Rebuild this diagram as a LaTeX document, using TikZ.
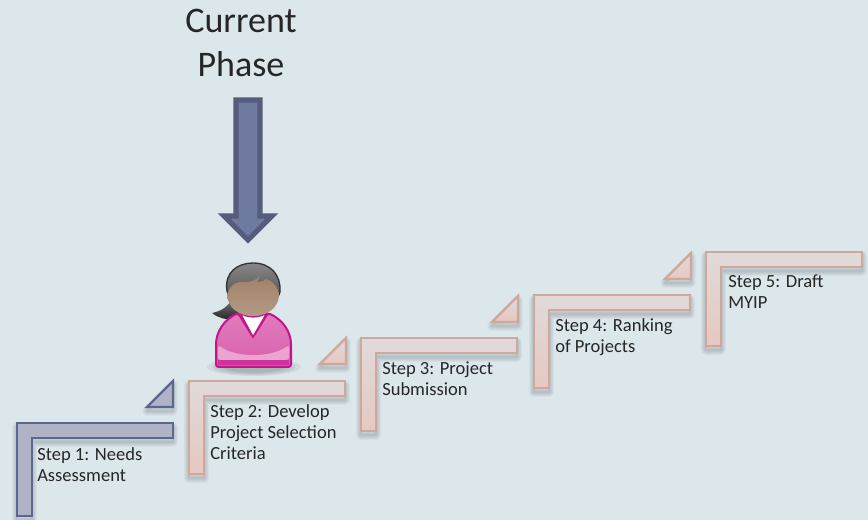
\documentclass[tikz,border=0pt]{standalone}
\usepackage{fontspec}
\setmainfont{Carlito}
\usetikzlibrary{calc}
\definecolor{bgc}{HTML}{DCE7EC}
\definecolor{slate}{HTML}{B0B3C5}
\definecolor{slateline}{HTML}{5C6790}
\definecolor{rosetop}{HTML}{E0DADA}
\definecolor{rosebot}{HTML}{E6C8C0}
\definecolor{roseline}{HTML}{CDA99D}
\definecolor{arrowfill}{HTML}{6F7AA0}
\definecolor{arrowline}{HTML}{565C7C}
\definecolor{magline}{HTML}{C4148C}
\definecolor{magtop}{HTML}{E07CBC}
\definecolor{magmid}{HTML}{EDB4D8}
\definecolor{magbot}{HTML}{D860AC}
\definecolor{skin}{HTML}{A08268}
\definecolor{skinlt}{HTML}{B39A86}
\definecolor{hairc}{HTML}{454545}
\tikzset{
  x=0.75pt,y=-0.75pt,
  donestep/.style={draw=slateline,line width=1.9pt,fill=slate,line join=miter},
  todostep/.style={draw=roseline,line width=1.9pt,top color=rosetop,bottom color=rosebot,line join=miter},
  donetri/.style={draw=slateline,line width=1.6pt,fill=slate,line join=miter},
  todotri/.style={draw=roseline,line width=1.6pt,top color=rosetop,bottom color=rosebot,line join=miter},
  softedge/.style={draw=black,draw opacity=0.035,fill=none,line join=round},
  steplabel/.style={anchor=north west,inner sep=0pt,align=left,font=\fontsize{13.9}{15.75}\selectfont,text=black!85},
  phaselabel/.style={anchor=center,inner sep=0pt,align=center,font=\fontsize{27}{33}\selectfont,text=black!85}
}
\newcommand{\stepshape}[4]{%
  \foreach \w in {1,2.5,4,5.5,7}{
    \path[softedge,line width=\w pt] (#1,#2+4) -- ++(156,0) -- ++(0,15) -- (#1+15,#2+19) -- (#1+15,#3+4) -- (#1,#3+4) -- cycle;
  }
  \path[#4] (#1,#2) -- ++(156,0) -- ++(0,15) -- (#1+15,#2+15) -- (#1+15,#3) -- (#1,#3) -- cycle;
}
\newcommand{\triangleshape}[3]{%
  \foreach \w in {1,2.5,4,5.5,7}{
    \path[softedge,line width=\w pt] (#1-26,#2+4) -- (#1,#2+4) -- (#1,#2-22) -- cycle;
  }
  \path[#3] (#1-26,#2) -- (#1,#2) -- (#1,#2-26) -- cycle;
}
\begin{document}
\begin{tikzpicture}
\useasboundingbox (0,0) rectangle (868,520);
\fill[bgc] (0,0) rectangle (868,520);

\node[phaselabel] (phase) at (241,43) {Current\\Phase};

\path[draw=arrowline,fill=arrowfill,line width=3.9pt,line join=miter,miter limit=4]
  (236,100) -- (260,100) -- (260,216) -- (272,216) -- (248,240) -- (224,216) -- (236,216) -- cycle;

\stepshape{17}{423}{516}{donestep}
\triangleshape{173}{407}{donetri}
\stepshape{189}{381}{474}{todostep}
\triangleshape{346}{364}{todotri}
\stepshape{361}{338}{431}{todostep}
\triangleshape{518}{322}{todotri}
\stepshape{534}{295}{388}{todostep}
\triangleshape{691}{279}{todotri}
\stepshape{706}{252}{346}{todostep}

\node[steplabel] (s1) at (37,447) {Step 1: Needs\\Assessment};
\node[steplabel] (s2) at (210,404) {Step 2: Develop\\Project Selection\\Criteria};
\node[steplabel] (s3) at (382,361) {Step 3: Project\\Submission};
\node[steplabel] (s4) at (555,318) {Step 4: Ranking\\of Projects};
\node[steplabel] (s5) at (728,275) {Step 5: Draft\\MYIP};

% Person: ground shadow
\foreach \r in {1,0.88,0.76,0.64}{
  \fill[black,fill opacity=0.06] (254,367) ellipse ({47*\r} and {9*\r});
}
% ponytail
\path[top color=hairc!70,bottom color=black!85] (233,297) .. controls (229,306) and (222,311) .. (212,313)
  .. controls (218,318) and (226,320) .. (234,319) -- (246,305) -- cycle;
% body
\path[draw=magline,line width=1.5pt,top color=magtop,bottom color=magbot,rounded corners=2pt]
  (238,313) .. controls (224,320) and (216,332) .. (216,347) -- (216,367) -- (291,367) -- (291,347)
  .. controls (291,332) and (283,320) .. (268,313) -- (253,337) -- cycle;
\fill[magmid,opacity=.8,rounded corners=2pt] (218,345) .. controls (236,358) and (271,358) .. (289,345) -- (289,360) -- (218,360) -- cycle;
\fill[magline!70!magtop] (218,360) rectangle (289,365.5);
% collar
\path[fill=white,draw=magline,line width=1.2pt] (240,313) -- (253,337) -- (267,313) .. controls (258,318) and (248,318) .. (240,313) -- cycle;
% hair
\path[draw=black!80,line width=1pt,top color=hairc!65,bottom color=hairc] (227,291) .. controls (224,272) and (238,263) .. (253,263)
  .. controls (270,263) and (281,274) .. (280,292) .. controls (276,310) and (230,310) .. (227,291) -- cycle;
% face
\path[top color=skin,bottom color=skinlt] (227,295) .. controls (229,286) and (236,281) .. (244,282) .. controls (250,283) and (256,280) .. (260,276)
  .. controls (259,279) and (258,280) .. (257,282) .. controls (262,282) and (264,281) .. (266,279) .. controls (274,282) and (279,288) .. (279,296)
  .. controls (278,309) and (266,316) .. (253,316) .. controls (239,316) and (228,308) .. (227,295) -- cycle;
\end{tikzpicture}
\end{document}
